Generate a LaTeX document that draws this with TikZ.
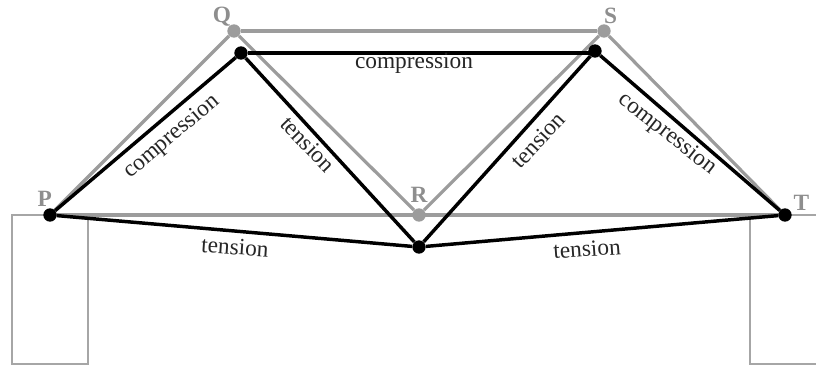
\documentclass[tikz,border=0pt]{standalone}
\usepackage{fontspec}
\setmainfont{Liberation Serif}
\usetikzlibrary{positioning}

\begin{document}
\begin{tikzpicture}[
    x=0.75pt, y=-0.75pt,
    node distance=1pt,
    joint/.style={circle, fill=black, inner sep=0pt, minimum size=10pt},
    restjoint/.style={joint, fill=restgray},
    letter/.style={inner sep=0pt, font=\fontsize{17.5}{18}\selectfont\bfseries, text=lettergray},
    force/.style={inner sep=0pt, font=\fontsize{17.5}{18}\selectfont, text=black!85},
    member/.style={draw=black, line width=2.6pt},
    restmember/.style={draw=restgray, line width=2.4pt},
    pier/.style={draw=piergray, line width=1.5pt}
]
\definecolor{restgray}{HTML}{9C9C9C}
\definecolor{lettergray}{HTML}{8E8E8E}
\definecolor{piergray}{HTML}{A6A6A6}
\useasboundingbox (0,0) rectangle (816,365);

% Unloaded truss
\node[restjoint] (q0) at (234,31) {};
\node[restjoint] (s0) at (604,31) {};
\node[restjoint] (r0) at (419,215) {};
\coordinate (p0) at (50,215);
\coordinate (t0) at (785,215);

% Piers
\coordinate (leftend) at (12,215);
\coordinate (leftfoot) at (12,364);
\coordinate (leftinner) at (88,364);
\coordinate (lefttop) at (88,215);
\coordinate (rightend) at (816,215);
\coordinate (rightfoot) at (816,364);
\coordinate (rightinner) at (750,364);
\coordinate (righttop) at (750,215);
\draw[pier] (p0) -- (leftend) -- (leftfoot) -- (leftinner) -- (lefttop);
\draw[pier] (t0) -- (rightend);
\draw[pier] (righttop) -- (rightinner) -- (rightfoot);

\draw[restmember] (p0) -- (q0);
\draw[restmember] (q0) -- (s0);
\draw[restmember] (q0) -- (r0);
\draw[restmember] (r0) -- (s0);
\draw[restmember] (s0) -- (t0);
\draw[restmember] (p0) -- (t0);

% Loaded truss
\node[joint] (p) at (50,215) {};
\node[joint] (q) at (241,53) {};
\node[joint] (s) at (595,51) {};
\node[joint] (r) at (419,247) {};
\node[joint] (t) at (785,215) {};
\draw[member] (p) -- (q);
\draw[member] (q) -- (q -| s);
\draw[member] (q) -- (r);
\draw[member] (r) -- (s);
\draw[member] (s) -- (t);
\draw[member] (p) -- (r);
\draw[member] (r) -- (t);

% Joint letters
\node[letter, above=1pt of p, xshift=-4pt] (plabel) {P};
\node[letter, above=-2pt of q0, xshift=-9pt] (qlabel) {Q};
\node[letter, above=4pt of r0] (rlabel) {R};
\node[letter, above=0pt of s0, xshift=5pt] (slabel) {S};
\node[letter, right=1pt of t, yshift=9pt] (tlabel) {T};

% Forces
\node[force] (pq) at (172,137) [rotate=40] {compression};
\node[force] (qs) at (414,63) {compression};
\node[force] (qr) at (308,144) [rotate=-46] {tension};
\node[force] (rs) at (538,140) [rotate=47] {tension};
\node[force] (st) at (667,134) [rotate=-38] {compression};
\node[force] (pr) at (235,247) [rotate=-4] {tension};
\node[force] (rt) at (587,249) [rotate=4] {tension};

\end{tikzpicture}
\end{document}
